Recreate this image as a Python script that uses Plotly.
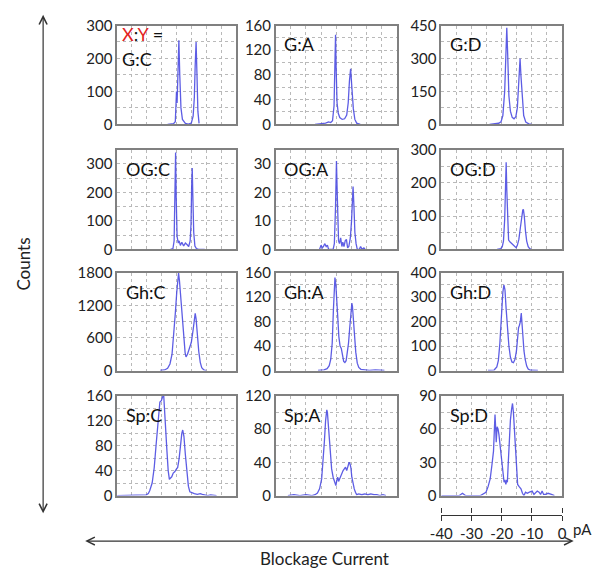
import plotly.graph_objects as go

# ---------------- data ----------------
panel_names = ["G:C", "G:A", "G:D", "OG:C", "OG:A", "OG:D",
               "Gh:C", "Gh:A", "Gh:D", "Sp:C", "Sp:A", "Sp:D"]

gc_x = [-23.0, -21.0, -20.4, -20.0, -19.8, -19.6, -19.2, -18.9, -18.5, -18.0, -17.0, -16.0, -15.0, -14.4, -14.0, -13.7, -13.4, -13.1, -12.8, -12.4]
gc_y = [0, 2, 8, 100, 65, 140, 255, 150, 50, 15, 3, 1, 4, 25, 80, 180, 250, 150, 40, 3]

ga_x = [-27, -25.5, -24.5, -23.5, -22.5, -21.8, -21.2, -20.7, -20.4, -20.2, -20.0, -19.7, -19.3, -18.8, -18.0, -17.2, -16.5, -16.0, -15.6, -15.2, -14.8, -14.3, -13.8, -13.2, -12.0]
ga_y = [0, 1, 1, 2, 4, 3, 6, 30, 100, 145, 90, 35, 18, 11, 8, 9, 15, 35, 70, 90, 60, 25, 8, 2, 0]

gd_x = [-24, -22, -21, -20.2, -19.6, -19.0, -18.6, -18.3, -18.0, -17.6, -17.1, -16.5, -15.9, -15.3, -14.8, -14.4, -14.1, -13.9, -13.6, -13.2, -12.7, -12.0, -11.0, -10]
gd_y = [0, 2, 5, 12, 40, 150, 330, 440, 320, 130, 60, 32, 25, 35, 75, 160, 260, 300, 220, 110, 40, 10, 2, 0]

ogc_x = [-22.0, -21.2, -20.8, -20.5, -20.3, -20.1, -19.8, -19.4, -19.1, -18.7, -18.2, -17.6, -17.0, -16.4, -15.9, -15.4, -15.1, -14.9, -14.7, -14.5, -14.2, -13.8, -13.3, -12.6, -10.5]
ogc_y = [0, 3, 30, 200, 340, 180, 45, 22, 30, 14, 25, 12, 22, 16, 10, 30, 90, 220, 285, 190, 60, 12, 3, 0, 0]

oga_x = [-25.5, -25.0, -24.6, -24.2, -23.8, -23.3, -22.9, -22.5, -21.0, -20.6, -20.2, -19.9, -19.6, -19.2, -18.9, -18.5, -18.1, -17.8, -17.4, -17.0, -16.6, -16.2, -15.8, -15.3, -14.9, -14.6, -14.4, -14.1, -13.8, -13.4, -13.0, -12.3, -11.9, -11.4, -10.8, -10.4]
oga_y = [0, 1.5, 0.5, 1, 2, 1, 1.5, 0, 0, 2, 15, 31, 18, 3, 2, 4, 1, 2.5, 1, 3, 3.5, 0.5, 1, 4, 10, 18, 22, 15, 6, 2, 0, 0, 1, 0, 0.5, 0]

ogd_x = [-21.5, -20.3, -19.8, -19.4, -19.0, -18.7, -18.5, -18.3, -18.0, -17.7, -17.2, -16.5, -15.8, -15.2, -14.8, -14.3, -13.8, -13.4, -13.0, -12.8, -12.5, -12.1, -11.7, -11.2, -10.7, -10.2]
ogd_y = [0, 2, 8, 25, 90, 200, 262, 180, 60, 28, 22, 15, 10, 5, 12, 30, 65, 100, 118, 120, 100, 55, 25, 8, 2, 0]

ghc_x = [-25.5, -24.0, -23.0, -22.2, -21.5, -20.9, -20.4, -19.9, -19.5, -19.3, -19.0, -18.6, -18.1, -17.6, -17.1, -16.8, -16.3, -15.7, -15.0, -14.4, -14.0, -13.7, -13.4, -13.0, -12.5, -12.0, -11.5, -10.8, -10.0]
ghc_y = [0, 10, 40, 120, 300, 650, 1050, 1450, 1750, 1790, 1650, 1350, 900, 560, 330, 250, 300, 400, 520, 750, 950, 1050, 950, 650, 350, 150, 50, 10, 0]

gha_x = [-26, -24.0, -23.0, -22.3, -21.8, -21.3, -20.9, -20.6, -20.4, -20.1, -19.8, -19.5, -19.1, -18.7, -18.3, -17.9, -17.5, -17.1, -16.7, -16.3, -15.9, -15.5, -15.1, -14.8, -14.6, -14.3, -13.9, -13.5, -13.0, -12.5, -11.8, -10.5, -9, -7, -5, -4]
gha_y = [0, 1, 3, 8, 18, 45, 100, 140, 152, 140, 120, 90, 55, 40, 36, 28, 15, 13, 16, 30, 45, 70, 95, 110, 105, 85, 55, 30, 12, 5, 2, 1, 0, 1, 0, 0]

ghd_x = [-24.5, -22.5, -21.6, -21.1, -20.6, -20.1, -19.6, -19.25, -18.9, -18.5, -18.1, -17.6, -17.1, -16.6, -16.1, -15.6, -15.1, -14.7, -14.4, -14.1, -13.8, -13.5, -13.3, -13.0, -12.6, -12.2, -11.7, -11.2, -10.5, -8.0]
ghd_y = [0, 2, 15, 40, 110, 220, 320, 350, 330, 250, 170, 100, 55, 35, 32, 45, 80, 140, 175, 185, 200, 235, 200, 140, 80, 45, 18, 6, 1, 0]

spc_x = [-40, -36, -33, -31, -30.2, -29.5, -29.0, -28.2, -27.5, -26.8, -26.2, -25.6, -25.1, -24.7, -24.3, -24.0, -23.6, -23.2, -22.8, -22.4, -22.0, -21.6, -21.1, -20.6, -20.1, -19.6, -19.1, -18.6, -18.2, -17.9, -17.5, -17.0, -16.5, -16.0, -15.5, -14.8, -14.0, -13.0, -12.0, -11.3, -10.5, -9.5, -8.5, -7.5, -6.5]
spc_y = [0, 0, 1, 0, 1, 3, 8, 20, 45, 85, 120, 150, 152, 158, 160, 140, 110, 70, 40, 26, 28, 30, 36, 38, 42, 45, 60, 85, 100, 105, 95, 65, 35, 15, 6, 4, 3, 2, 3, 2, 1, 0, 1, 0, 0]

spa_x = [-36, -34, -32, -30, -28, -27, -26.2, -25.5, -24.8, -24.3, -23.9, -23.5, -23.1, -22.9, -22.6, -22.3, -21.9, -21.5, -21.0, -20.5, -20.1, -19.8, -19.5, -19.2, -18.9, -18.5, -18.1, -17.7, -17.3, -16.9, -16.5, -16.1, -15.7, -15.4, -15.1, -14.8, -14.4, -14.0, -13.6, -13.2, -12.5, -11.5, -10.5, -9.5, -8.5, -7.5, -6.5, -5.5, -4.5, -3.5]
spa_y = [0, 1, 0, 1, 0, 1, 3, 8, 20, 40, 65, 90, 103, 100, 85, 65, 45, 32, 22, 15, 12, 18, 22, 17, 20, 24, 26, 30, 32, 34, 30, 36, 40, 38, 33, 22, 14, 8, 4, 1, 2, 1, 2, 1, 2, 1, 1, 0, 1, 0]

spd_x = [-40, -34, -33, -32, -27, -25.8, -25.2, -24.5, -23.8, -23.2, -22.7, -22.4, -22.2, -22.0, -21.8, -21.5, -21.2, -20.9, -20.5, -20.0, -19.6, -19.2, -18.9, -18.6, -18.3, -18.1, -17.8, -17.5, -17.1, -16.7, -16.4, -16.1, -15.7, -15.2, -14.7, -14.2, -13.6, -13.1, -12.6, -12.1, -11.5, -10.8, -9.9, -9.3, -8.8, -8.2, -7.6, -7.1, -6.6, -6.1, -5.5, -4.6, -3.5, -2.5]
spd_y = [0, 0, 2, 0, 0, 2, 3, 8, 15, 28, 40, 60, 73, 62, 48, 62, 60, 55, 45, 28, 18, 12, 14, 10, 14, 12, 30, 55, 68, 78, 83, 75, 55, 30, 10, 8, 6, 2, 0, 3, 2, 3, 4, 1, 2, 4, 3, 1, 4, 1, 1, 2, 1, 0]

series_x = [gc_x, ga_x, gd_x, ogc_x, oga_x, ogd_x, ghc_x, gha_x, ghd_x, spc_x, spa_x, spd_x]
series_y = [gc_y, ga_y, gd_y, ogc_y, oga_y, ogd_y, ghc_y, gha_y, ghd_y, spc_y, spa_y, spd_y]

y_max = [300, 160, 450, 350, 35, 300, 1800, 160, 400, 160, 120, 90]
y_tick_step = [100, 40, 150, 100, 10, 100, 600, 40, 100, 40, 40, 30]

scale_ticks = [-40, -30, -20, -10, 0]
scale_tick_labels = ["-40", "-30", "-20", "-10", "0"]

# ---------------- layout geometry ----------------
W, H = 604, 583
FONT = "Lato, 'Open Sans', sans-serif"
col_px = [(109, 231), (272, 396), (442, 566)]
row_px = [(16, 118), (144, 247), (271, 372), (398, 501)]

def px_x(p):
    return p / W

def px_y(p):
    return 1 - p / H

fig = go.Figure()
layout = dict(
    width=W, height=H, autosize=False,
    margin=dict(l=0, r=0, t=0, b=0),
    paper_bgcolor="white", plot_bgcolor="white",
    showlegend=False,
    font=dict(family=FONT, color="#222222"),
)
annotations = []
grid_col = "#b9b9b9"
frame_col = "#808080"
line_col = "rgba(75,75,225,0.9)"
TICK_SIZE = 15
LABEL_SIZE = 18

for i, name in enumerate(panel_names):
    r, c = divmod(i, 3)
    n = i + 1
    xa = "xaxis" if n == 1 else f"xaxis{n}"
    ya = "yaxis" if n == 1 else f"yaxis{n}"
    xr = "x" if n == 1 else f"x{n}"
    yr = "y" if n == 1 else f"y{n}"
    x0, x1 = col_px[c]
    y0, y1 = row_px[r]
    layout[xa] = dict(
        domain=[px_x(x0), px_x(x1)], anchor=yr, range=[-40, 0],
        dtick=5, tick0=0, showticklabels=False, ticks="",
        showgrid=True, griddash="dot", gridcolor=grid_col, gridwidth=1,
        zeroline=False, showline=True, mirror=True,
        linecolor=frame_col, linewidth=1.5, fixedrange=True,
    )
    layout[ya] = dict(
        domain=[px_y(y1), px_y(y0)], anchor=xr, range=[0, y_max[i]],
        dtick=y_tick_step[i], tick0=0, ticks="",
        tickfont=dict(size=TICK_SIZE, family=FONT, color="#222222"),
        showgrid=True, griddash="dot", gridcolor=grid_col, gridwidth=1,
        minor=dict(dtick=y_tick_step[i] / 2, tick0=0, showgrid=True,
                   griddash="dot", gridcolor=grid_col, gridwidth=1),
        zeroline=False, showline=True, mirror=True,
        linecolor=frame_col, linewidth=1.5, fixedrange=True,
    )
    fig.add_trace(go.Scatter(
        x=series_x[i], y=series_y[i], mode="lines", xaxis=xr, yaxis=yr,
        line=dict(color=line_col, width=1.3), hoverinfo="skip",
    ))
    if i == 0:
        annotations.append(dict(
            text="<span style='color:#e3231e'>X</span>:<span style='color:#e3231e'>Y</span> =",
            xref=f"{xr} domain", yref=f"{yr} domain", x=0.025, y=1.045,
            xanchor="left", yanchor="top", showarrow=False,
            font=dict(size=LABEL_SIZE, family=FONT, color="#111111")))
        annotations.append(dict(
            text=name, xref=f"{xr} domain", yref=f"{yr} domain", x=0.025, y=0.79,
            xanchor="left", yanchor="top", showarrow=False,
            font=dict(size=LABEL_SIZE, family=FONT, color="#111111")))
    else:
        annotations.append(dict(
            text=name, xref=f"{xr} domain", yref=f"{yr} domain", x=0.055, y=0.94,
            xanchor="left", yanchor="top", showarrow=False,
            font=dict(size=LABEL_SIZE, family=FONT, color="#111111")))

# ---------------- scale bar (separate axis under the right column) ----------------
sb_y = 520
layout["yaxis13"] = dict(domain=[px_y(sb_y + 1), px_y(sb_y)], anchor="x13",
                         visible=False, range=[0, 1], fixedrange=True)
layout["xaxis13"] = dict(
    domain=[px_x(col_px[2][0]), px_x(col_px[2][1])], anchor="y13", range=[-40, 0],
    tickvals=scale_ticks, ticktext=scale_tick_labels, ticks="outside",
    ticklen=5, tickwidth=1.3, tickcolor="#333333",
    showline=True, linecolor="#333333", linewidth=1.3,
    showgrid=False, zeroline=False, side="bottom",
    tickfont=dict(size=TICK_SIZE, family=FONT, color="#222222"), fixedrange=True,
)
layout["xaxis14"] = dict(
    overlaying="x13", anchor="y13", range=[-40, 0], side="top",
    tickvals=scale_ticks, ticks="outside", ticklen=5, tickwidth=1.3,
    tickcolor="#333333", showticklabels=False, showline=False,
    showgrid=False, zeroline=False, fixedrange=True,
)
fig.add_trace(go.Scatter(x=scale_ticks, y=[0.5] * len(scale_ticks), xaxis="x13", yaxis="y13",
                         mode="markers", marker=dict(opacity=0), hoverinfo="skip"))
fig.add_trace(go.Scatter(x=scale_ticks, y=[0.5] * len(scale_ticks), xaxis="x14", yaxis="y13",
                         mode="markers", marker=dict(opacity=0), hoverinfo="skip"))

annotations.append(dict(text="pA", xref="paper", yref="paper", x=px_x(575), y=px_y(536),
                        xanchor="left", yanchor="middle", showarrow=False,
                        font=dict(size=TICK_SIZE, family=FONT, color="#222222")))

# ---------------- arrows and axis titles ----------------
arrow_col = "#333333"
annotations.append(dict(text="", xref="paper", yref="paper", x=px_x(33), y=px_y(5),
                        ax=0, ay=500, showarrow=True, arrowside="end+start",
                        arrowhead=5, startarrowhead=5, arrowsize=1.3, startarrowsize=1.3,
                        arrowwidth=1.2, arrowcolor=arrow_col))
annotations.append(dict(text="", xref="paper", yref="paper", x=px_x(578), y=px_y(548),
                        ax=-490, ay=0, showarrow=True, arrowside="end+start",
                        arrowhead=5, startarrowhead=5, arrowsize=1.3, startarrowsize=1.3,
                        arrowwidth=1.2, arrowcolor=arrow_col))
annotations.append(dict(text="Counts", xref="paper", yref="paper", x=px_x(13), y=px_y(262),
                        textangle=-90, showarrow=False, xanchor="center", yanchor="middle",
                        font=dict(size=17, family=FONT, color="#222222")))
annotations.append(dict(text="Blockage Current", xref="paper", yref="paper", x=px_x(322),
                        y=px_y(566), showarrow=False, xanchor="center", yanchor="middle",
                        font=dict(size=17, family=FONT, color="#222222")))

layout["annotations"] = annotations
fig.update_layout(**layout)
fig.write_html("out.html", config={"displayModeBar": False},
               post_script="document.body.style.margin='0';")
